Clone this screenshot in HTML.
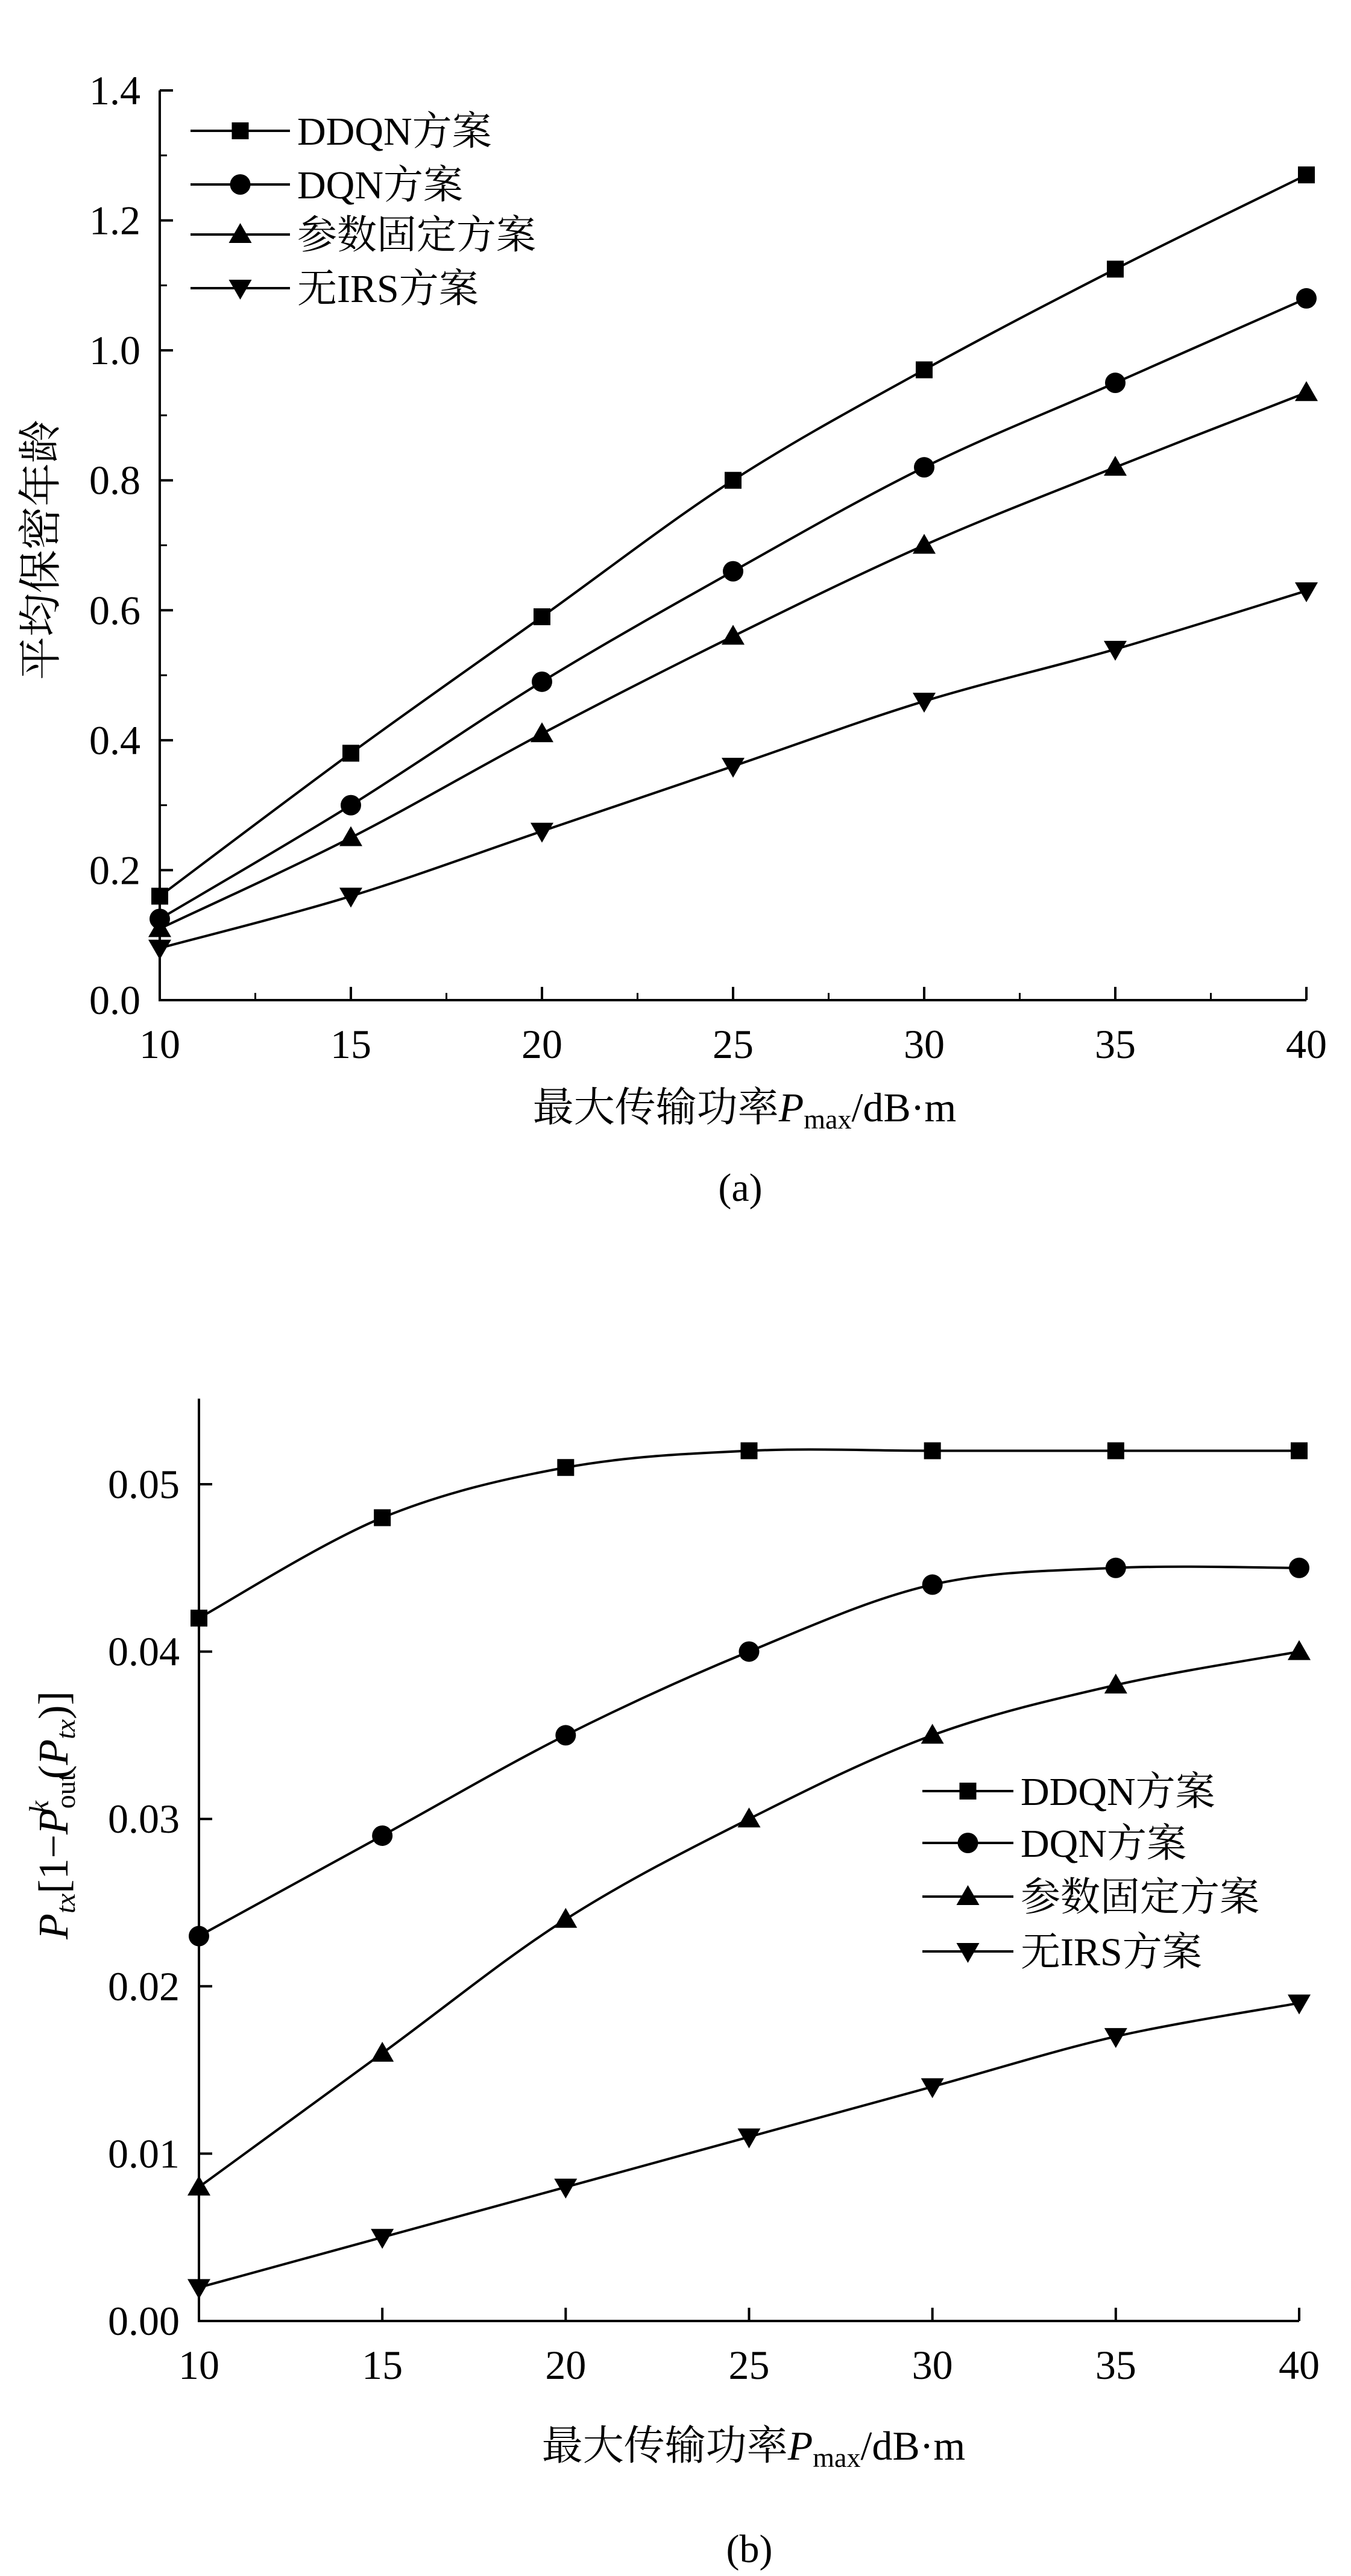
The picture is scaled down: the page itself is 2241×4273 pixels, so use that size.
<!DOCTYPE html>
<html><head><meta charset="utf-8"><style>
html,body{margin:0;padding:0;background:#fff;}
svg{display:block;}
text{font-family:"Liberation Serif","Noto Serif CJK SC",serif;fill:#000;}
</style></head><body>
<svg id="fig" width="2241" height="4273" viewBox="0 0 2241 4273" xmlns="http://www.w3.org/2000/svg"></svg>
<script>
const xCats = [10, 15, 20, 25, 30, 35, 40];
const seriesNames = ["DDQN方案", "DQN方案", "参数固定方案", "无IRS方案"];
const aDDQN = [0.16, 0.38, 0.59, 0.80, 0.97, 1.125, 1.27];
const aDQN = [0.125, 0.30, 0.49, 0.66, 0.82, 0.95, 1.08];
const aFixed = [0.11, 0.25, 0.41, 0.56, 0.70, 0.82, 0.935];
const aNoIRS = [0.08, 0.16, 0.26, 0.36, 0.46, 0.54, 0.63];
const aYTicks = ["0.0", "0.2", "0.4", "0.6", "0.8", "1.0", "1.2", "1.4"];
const bDDQN = [0.042, 0.048, 0.051, 0.052, 0.052, 0.052, 0.052];
const bDQN = [0.023, 0.029, 0.035, 0.040, 0.044, 0.045, 0.045];
const bFixed = [0.008, 0.016, 0.024, 0.030, 0.035, 0.038, 0.040];
const bNoIRS = [0.002, 0.005, 0.008, 0.011, 0.014, 0.017, 0.019];
const bYTicks = ["0.00", "0.01", "0.02", "0.03", "0.04", "0.05"];

const NS = "http://www.w3.org/2000/svg";
const svg = document.getElementById("fig");
function mk(tag, attrs, parent) {
  const e = document.createElementNS(NS, tag);
  for (const k in attrs) e.setAttribute(k, attrs[k]);
  (parent || svg).appendChild(e);
  return e;
}
function spline(pts) {
  let d = "M" + pts[0][0] + "," + pts[0][1];
  for (let i = 0; i < pts.length - 1; i++) {
    const p0 = pts[Math.max(0, i - 1)], p1 = pts[i], p2 = pts[i + 1], p3 = pts[Math.min(pts.length - 1, i + 2)];
    const c1x = p1[0] + (p2[0] - p0[0]) / 6, c1y = p1[1] + (p2[1] - p0[1]) / 6;
    const c2x = p2[0] - (p3[0] - p1[0]) / 6, c2y = p2[1] - (p3[1] - p1[1]) / 6;
    d += " C" + c1x + "," + c1y + " " + c2x + "," + c2y + " " + p2[0] + "," + p2[1];
  }
  return d;
}
function marker(g, type, x, y) {
  let e;
  if (type === 0) e = mk("rect", {x: x - 14, y: y - 14, width: 28, height: 28, fill: "#000"}, g);
  else if (type === 1) e = mk("circle", {cx: x, cy: y, r: 17, fill: "#000"}, g);
  else if (type === 2) e = mk("polygon", {points: `${x},${y - 19} ${x - 19},${y + 14} ${x + 19},${y + 14}`, fill: "#000"}, g);
  else e = mk("polygon", {points: `${x},${y + 19} ${x - 19},${y - 14} ${x + 19},${y - 14}`, fill: "#000"}, g);
  
  
}

function chart(cfg) {
  const g = mk("g", {});
  
  
  const xs = v => cfg.x0 + (v - 10) / 30 * (cfg.x1 - cfg.x0);
  const ys = v => cfg.y0 + v / cfg.ymax * (cfg.y1 - cfg.y0);
  const ax = mk("path", {d: `M${cfg.x0},${cfg.top} V${cfg.y0} H${cfg.x1}`, stroke: "#000", "stroke-width": 4, fill: "none"}, g);
  
  
  cfg.yTicks.forEach((t, i) => {
    const v = parseFloat(t), y = ys(v);
    mk("line", {x1: cfg.x0, x2: cfg.x0 + 22, y1: y, y2: y, stroke: "#000", "stroke-width": 4}, g);
    if (cfg.minor && i < cfg.yTicks.length - 1) {
      const ym = ys(v + cfg.ystep / 2);
      mk("line", {x1: cfg.x0, x2: cfg.x0 + 12, y1: ym, y2: ym, stroke: "#000", "stroke-width": 3}, g);
    }
    const tl = mk("text", {x: cfg.x0 - 32, y: y + 23, "text-anchor": "end", "font-size": 68}, g);
    tl.textContent = t;
    
    
  });
  xCats.forEach((c, i) => {
    const x = xs(c);
    mk("line", {x1: x, x2: x, y1: cfg.y0, y2: cfg.y0 - 22, stroke: "#000", "stroke-width": 4}, g);
    if (cfg.minor && i < xCats.length - 1) {
      const xm = xs(c + 2.5);
      mk("line", {x1: xm, x2: xm, y1: cfg.y0, y2: cfg.y0 - 12, stroke: "#000", "stroke-width": 3}, g);
    }
    const tl = mk("text", {x: x, y: cfg.xLabY, "text-anchor": "middle", "font-size": 68}, g);
    tl.textContent = c;
    
    
  });
  cfg.series.forEach((s, si) => {
    const pts = s.map((v, i) => [xs(xCats[i]), ys(v)]);
    const p = mk("path", {d: spline(pts), stroke: "#000", "stroke-width": 4, fill: "none"}, g);
    
    
    pts.forEach(q => marker(g, si, q[0], q[1]));
  });
  const lg = mk("g", {}, g);
  
  
  seriesNames.forEach((n, i) => {
    const y = cfg.legY[i];
    mk("line", {x1: cfg.legX0, x2: cfg.legX1, y1: y, y2: y, stroke: "#000", "stroke-width": 4}, lg);
    marker(lg, i, (cfg.legX0 + cfg.legX1) / 2, y);
    const t = mk("text", {x: cfg.legX1 + 12, y: y + 23, "font-size": 66}, lg);
    t.textContent = n;
    
    
  });
  const xt = mk("text", {x: cfg.xtX, y: cfg.xtY, "text-anchor": "middle", "font-size": 68}, g);
  xt.innerHTML = '最大传输功率<tspan font-style="italic">P</tspan><tspan font-size="46" dy="12">max</tspan><tspan dy="-12">/dB·m</tspan>';
  
  
  const cap = mk("text", {x: cfg.capX, y: cfg.capY, "text-anchor": "middle", "font-size": 66}, g);
  cap.textContent = cfg.cap;
  
  
  return g;
}

chart({name: "chart-a", x0: 265, x1: 2167, y0: 1659, y1: 150, top: 150, ymax: 1.4, ystep: 0.2, minor: true,
  yTicks: aYTicks, series: [aDDQN, aDQN, aFixed, aNoIRS], xLabY: 1755,
  legY: [217, 306, 389, 478], legX0: 316, legX1: 481, xtX: 1235, xtY: 1860, capX: 1228, capY: 1992, cap: "(a)"});
const ya = mk("text", {transform: "translate(92,912) rotate(-90)", "text-anchor": "middle", "font-size": 72});
ya.textContent = "平均保密年龄";



chart({name: "chart-b", x0: 330, x1: 2155, y0: 3850, y1: 2462, top: 2320, ymax: 0.05, ystep: 0.01, minor: false,
  yTicks: bYTicks, series: [bDDQN, bDQN, bFixed, bNoIRS], xLabY: 3946,
  legY: [2971, 3057, 3146, 3237], legX0: 1530, legX1: 1681, xtX: 1250, xtY: 4080, capX: 1243, capY: 4250, cap: "(b)"});
const yb = mk("text", {transform: "translate(112,3011) rotate(-90)", "text-anchor": "middle", "font-size": 70});
yb.innerHTML = '<tspan font-style="italic">P</tspan><tspan font-style="italic" font-size="46" dy="12">tx</tspan><tspan dy="-12">[1−</tspan><tspan font-style="italic">P</tspan><tspan font-size="46" dy="12">out</tspan><tspan font-style="italic" font-size="46" dx="-66" dy="-44">k</tspan><tspan dx="36" dy="32">(</tspan><tspan font-style="italic">P</tspan><tspan font-style="italic" font-size="46" dy="12">tx</tspan><tspan dy="-12">)]</tspan>';


</script>
</body></html>
